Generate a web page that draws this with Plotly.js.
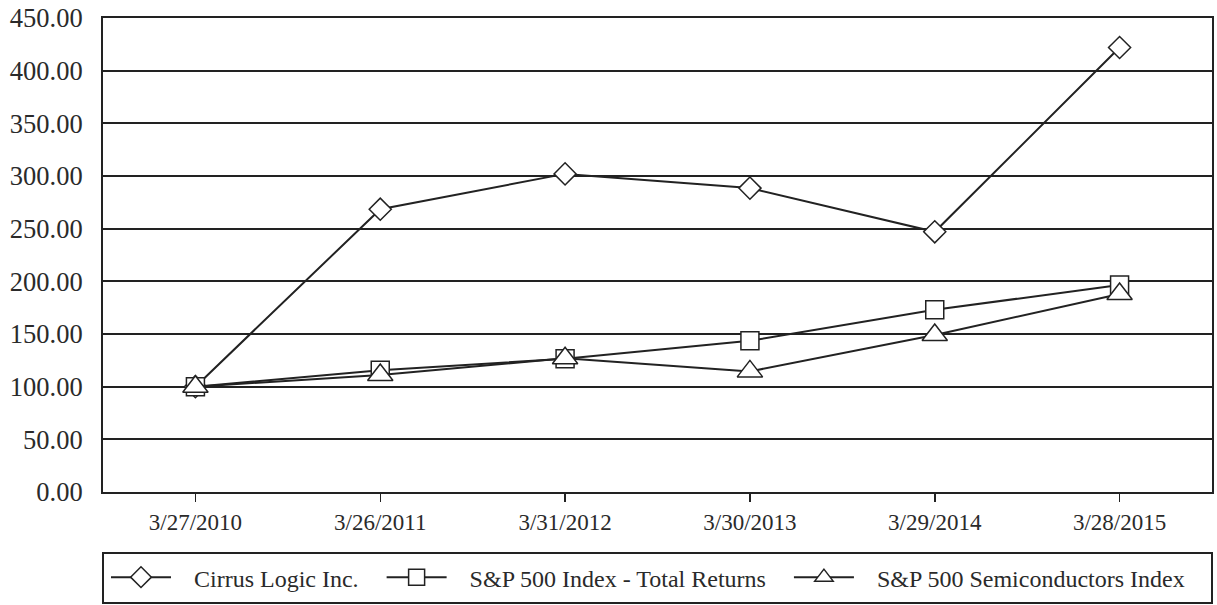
<!DOCTYPE html>
<html>
<head>
<meta charset="utf-8">
<script src="https://cdn.plot.ly/plotly-3.0.1.min.js"></script>
<style>html,body{margin:0;padding:0;background:#fff;}#chart{width:1217px;height:605px;}</style>
</head>
<body>
<div id="chart"></div>
<script>
const dates = ["3/27/2010", "3/26/2011", "3/31/2012", "3/30/2013", "3/29/2014", "3/28/2015"];
const seriesNames = ["Cirrus Logic Inc.", "S&P 500 Index - Total Returns", "S&P 500 Semiconductors Index"];
const cirrusLogic = [100.00, 268.5, 302.0, 288.5, 247.0, 422.0];
const sp500Total = [100.00, 115.5, 126.5, 143.5, 173.0, 196.5];
const sp500Semis = [100.00, 111.0, 127.0, 114.5, 149.0, 188.0];
const yTicks = [0, 50, 100, 150, 200, 250, 300, 350, 400, 450];

const ink = '#222';
const txt = '#2a2a2a';
const fontFam = '"Liberation Serif", "Times New Roman", serif';
const pad = '\u00a0\u00a0\u00a0';

function series(name, y, symbol, size) {
  return {
    type: 'scatter', mode: 'lines+markers', name: pad + name + pad, x: dates, y: y,
    line: {color: ink, width: 2},
    marker: {symbol: symbol, size: size, color: '#fff', line: {color: ink, width: 1.5}},
    cliponaxis: false
  };
}

const data = [
  series(seriesNames[0], cirrusLogic, 'diamond', 17),
  series(seriesNames[1], sp500Total, 'square', 18),
  series(seriesNames[2], sp500Semis, 'triangle-up', 22)
];

const layout = {
  width: 1217, height: 605,
  margin: {l: 103, r: 5, t: 18, b: 113, autoexpand: false},
  paper_bgcolor: '#fff', plot_bgcolor: '#fff',
  font: {family: fontFam, color: txt},
  showlegend: true,
  xaxis: {
    type: 'category', range: [-0.5, 5.5],
    showline: true, linecolor: ink, linewidth: 2, mirror: true,
    ticks: 'outside', ticklen: 8, tickwidth: 1.5, tickcolor: ink,
    showgrid: false, zeroline: false,
    tickfont: {family: fontFam, size: 23, color: txt},
    fixedrange: true
  },
  yaxis: {
    range: [0, 450], tickvals: yTicks, tickformat: '.2f',
    showline: true, linecolor: ink, linewidth: 2, mirror: true,
    showgrid: true, gridcolor: ink, gridwidth: 2, zeroline: false,
    ticks: '', ticklabelstandoff: 13,
    tickfont: {family: fontFam, size: 26.5, color: txt},
    fixedrange: true
  },
  legend: {
    orientation: 'h', x: 0.0027, xanchor: 'left', y: -0.133, yanchor: 'top',
    font: {family: fontFam, size: 24, color: txt},
    itemwidth: 60,
    bgcolor: 'rgba(0,0,0,0)', borderwidth: 0
  },
  shapes: [{
    type: 'rect', xref: 'paper', yref: 'paper',
    x0: 0, x1: 1, y0: -0.1287, y1: -0.2342,
    line: {color: ink, width: 2}, fillcolor: 'rgba(0,0,0,0)'
  }]
};

Plotly.newPlot('chart', data, layout, {displayModeBar: false, staticPlot: true});
</script>
</body>
</html>
